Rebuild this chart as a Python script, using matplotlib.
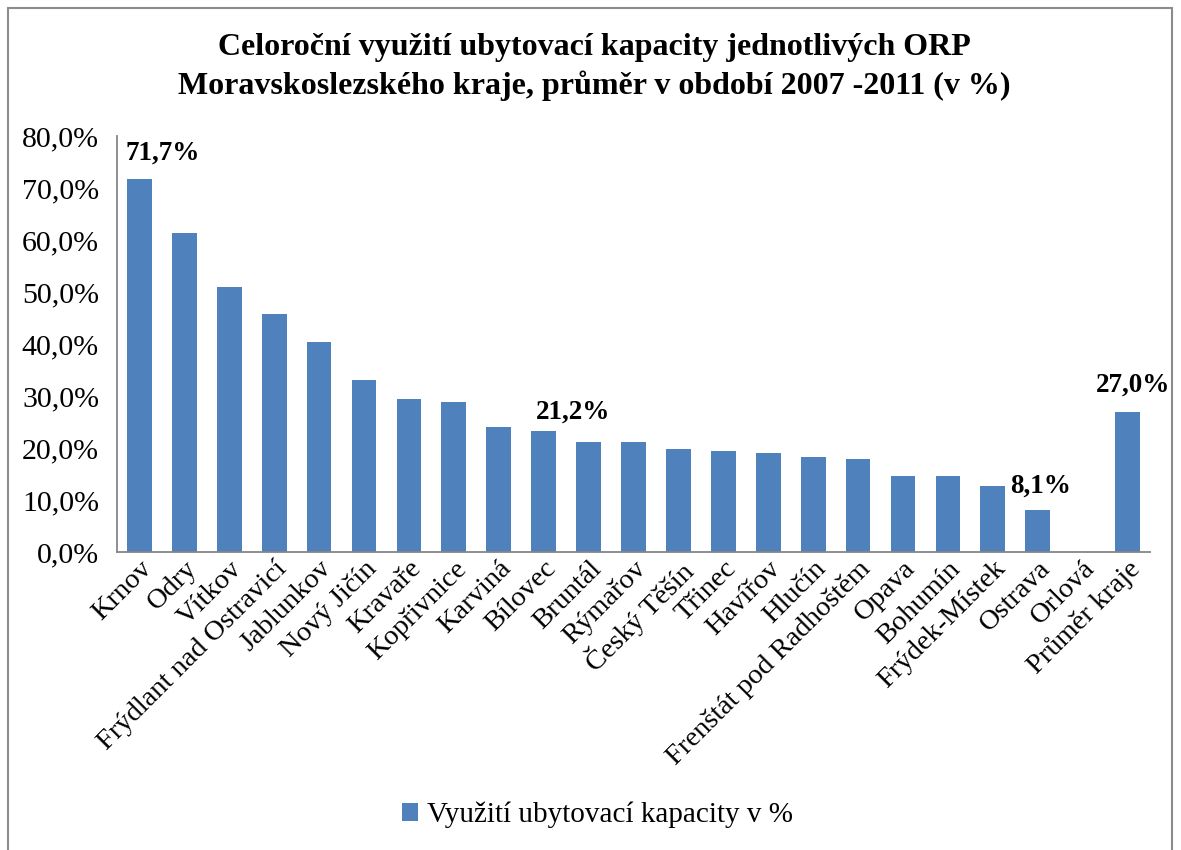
import matplotlib
matplotlib.use("Agg")
import matplotlib.pyplot as plt
from matplotlib.patches import Rectangle
from matplotlib.ticker import FuncFormatter

categories = ["Krnov", "Odry", "Vítkov", "Frýdlant nad Ostravicí", "Jablunkov",
              "Nový Jičín", "Kravaře", "Kopřivnice", "Karviná", "Bílovec",
              "Bruntál", "Rýmařov", "Český Těšín", "Třinec", "Havířov", "Hlučín",
              "Frenštát pod Radhoštěm", "Opava", "Bohumín", "Frýdek-Místek",
              "Ostrava", "Orlová", "Průměr kraje"]
values = [71.7, 61.3, 50.9, 45.7, 40.3, 33.1, 29.4, 28.8, 24.0, 23.2,
          21.2, 21.1, 19.9, 19.5, 19.1, 18.3, 17.9, 14.7, 14.6, 12.6,
          8.1, 0.0, 27.0]
labelled = {"Krnov": (17, 19), "Bruntál": (-11, 21), "Ostrava": (2, 17), "Průměr kraje": (4, 19)}
title = "Celoroční využití ubytovací kapacity jednotlivých ORP\nMoravskoslezského kraje, průměr v období 2007 -2011 (v %)"
legend_label = "Využití ubytovací kapacity v %"

plt.rcParams['font.family'] = ['Liberation Serif', 'DejaVu Serif']

W, H = 1181, 850
fig = plt.figure(figsize=(W / 100, H / 100), dpi=100)
fig.patches.append(Rectangle((8 / W, -0.01), (1172 - 8) / W, (850 - 8) / H + 0.01,
                             transform=fig.transFigure, fill=False,
                             edgecolor="#8c8c8c", linewidth=1.5))

left, right, top, bottom = 117, 1150, 136, 552
ax = fig.add_axes([left / W, 1 - bottom / H, (right - left) / W, (bottom - top) / H])

n = len(categories)
x = list(range(n))
bars = ax.bar(x, values, width=0.55, color="#4F81BD", label=legend_label)
ax.set_xlim(-0.5, n - 0.5)
ax.set_ylim(0, 80)
ax.set_yticks(range(0, 81, 10))
ax.yaxis.set_major_formatter(FuncFormatter(lambda v, p: f"{v:.1f}%".replace(".", ",")))
ax.set_xticks(x)
ax.set_xticklabels(categories, rotation=45, ha="right", rotation_mode="anchor")
ax.tick_params(axis="y", length=0, labelsize=21.5, pad=13)
ax.tick_params(axis="x", length=0, labelsize=20.5, pad=3)
for s in ["top", "right"]:
    ax.spines[s].set_visible(False)
for s in ["left", "bottom"]:
    ax.spines[s].set_color("#868686")
    ax.spines[s].set_linewidth(1.3)

for i, (c, v) in enumerate(zip(categories, values)):
    if c in labelled:
        dx, dy = labelled[c]
        ax.annotate(f"{v:.1f}%".replace(".", ","), xy=(i, v), xytext=(dx, dy),
                    textcoords="offset points", ha="center", va="center",
                    fontsize=19.5, fontweight="bold")

fig.text(0.503, 1 - 67 / H, title, ha="center", va="center", fontsize=23,
         fontweight="bold", linespacing=1.35)

fig.legend(handles=[bars], labels=[legend_label], loc="center",
           bbox_to_anchor=(0.506, 1 - 815 / H), frameon=False, fontsize=21,
           handlelength=0.55, handleheight=0.55, handletextpad=0.3)

fig.savefig("out.png", dpi=100, facecolor="white")
